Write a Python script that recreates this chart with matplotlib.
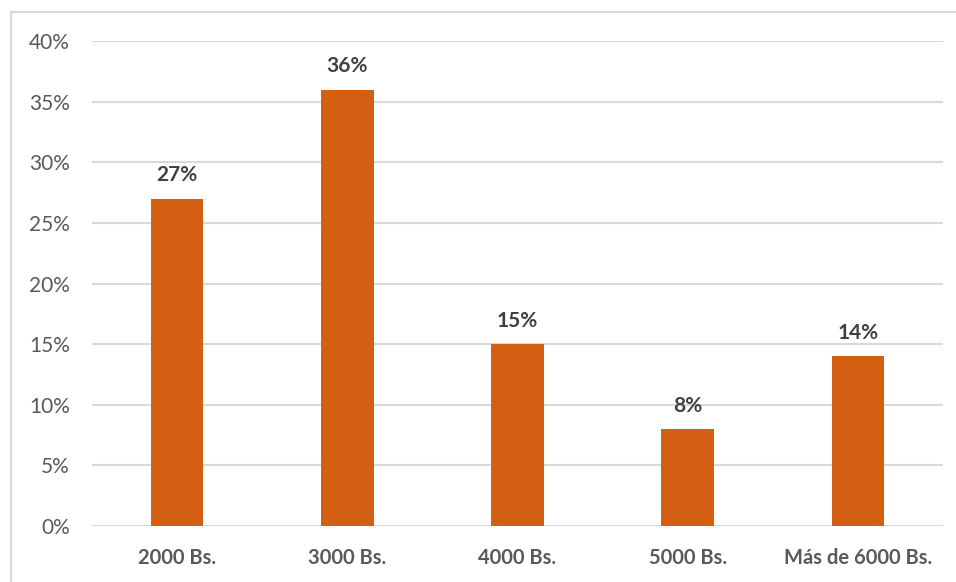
import matplotlib
matplotlib.use("Agg")
import matplotlib.pyplot as plt
from matplotlib.lines import Line2D
from matplotlib.ticker import FuncFormatter, MultipleLocator

categories = ["2000 Bs.", "3000 Bs.", "4000 Bs.", "5000 Bs.", "Más de 6000 Bs."]
values = [27, 36, 15, 8, 14]

plt.rcParams['font.family'] = ['Lato', 'DejaVu Sans']

fig = plt.figure(figsize=(9.56, 5.82), dpi=100)
ax = fig.add_axes([92/956, 1-526/582, (943-92)/956, (526-41)/582])

x = list(range(len(categories)))
bars = ax.bar(x, values, width=0.31, color="#D35F12", zorder=3)
for xi, v in zip(x, values):
    ax.annotate(f"{v}%", (xi, v), xytext=(0, 9.5), textcoords="offset points",
                ha="center", va="bottom", fontsize=15, fontweight="bold", color="#404040")

ax.set_xlim(-0.5, len(categories) - 0.5)
ax.set_ylim(0, 40)
ax.yaxis.set_major_locator(MultipleLocator(5))
ax.yaxis.set_major_formatter(FuncFormatter(lambda v, p: f"{int(v)}%"))
ax.set_xticks(x)
ax.set_xticklabels(categories, fontweight="bold", fontsize=14.5, color="#595959")
ax.tick_params(axis="y", labelsize=15, labelcolor="#595959", length=0, pad=16)
ax.tick_params(axis="x", length=0, pad=16)
ax.grid(axis="y", color="#D9D9D9", linewidth=1.5, zorder=0)
for s in ax.spines.values():
    s.set_visible(False)

fig.add_artist(Line2D([11/956, 11/956], [0, 1-12/582], transform=fig.transFigure, color="#D9D9D9", linewidth=1.5))
fig.add_artist(Line2D([11/956, 1], [1-12/582, 1-12/582], transform=fig.transFigure, color="#D9D9D9", linewidth=1.5))

fig.savefig("out.png", dpi=100)
